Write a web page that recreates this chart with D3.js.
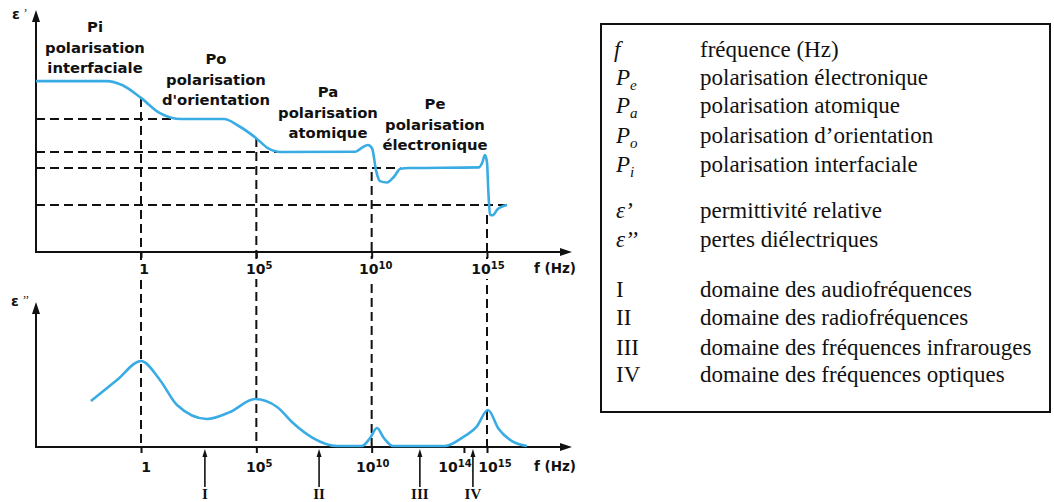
<!DOCTYPE html>
<html><head><meta charset="utf-8">
<script src="https://cdn.jsdelivr.net/npm/d3@7"></script>
<style>body{margin:0;background:#fff;} svg{display:block}</style>
</head><body><svg id="c" width="1054" height="502"></svg>
<script>
// ---------- DATA ----------
// frequency expressed as log10(f / Hz)
const tickExpTop = [0, 5, 10, 15];
const tickExpBottom = [0, 5, 10, 14, 15];
// real part of permittivity ε' (arbitrary units)
const epsPrimeLogF = [-4.55, -1.5, -0.8, 0, 0.8, 1.75, 3.6, 4.2, 4.98, 5.5, 6.05, 9.3, 9.6, 9.84, 10.02, 10.19, 10.36, 10.66, 10.95, 11.25, 11.6, 14.65, 14.8, 14.91, 15.0, 15.06, 15.13, 15.25, 15.45, 15.87];
const epsPrimeValues = [7.43, 7.43, 7.25, 6.70, 6.05, 5.78, 5.78, 5.50, 4.96, 4.52, 4.35, 4.36, 4.55, 4.65, 4.50, 3.55, 3.08, 3.02, 3.25, 3.62, 3.65, 3.68, 3.90, 4.22, 3.90, 2.60, 1.62, 1.60, 1.85, 2.04];
// imaginary part ε'' (dielectric losses, arbitrary units)
const epsSecondLogF = [-2.17, -1.04, 0, 0.82, 1.56, 2.86, 3.86, 4.94, 5.9, 6.59, 7.46, 8.5, 9.58, 9.93, 10.23, 10.53, 10.92, 13.18, 13.9, 14.55, 15.04, 15.5, 16.1, 16.73];
const epsSecondValues = [3.29, 4.79, 6.14, 4.79, 3.0, 2.0, 2.5, 3.43, 2.86, 1.71, 0.64, 0.07, 0.07, 0.64, 1.36, 0.64, 0.07, 0.07, 0.64, 1.45, 2.64, 1.30, 0.40, 0.07];
// plateau levels of ε' (horizontal guides) and where they end
const plateauLevels = [5.78, 4.35, 3.65, 2.04];
const plateauEndLogF = [1.8, 6.0, 11.25, 15.85];
// relaxation frequencies (vertical guides) and ε' value where guide starts
const relaxLogF = [0, 5, 10, 15];
const relaxEpsPrime = [6.70, 4.96, 3.48, 1.61];
// frequency domains
const domainLogF = [2.77, 7.72, 12.09, 14.39];
const domainLabels = ["I", "II", "III", "IV"];
// region labels (top chart)
const regionTitles = ["Pi", "Po", "Pa", "Pe"];
const regionNames = [["polarisation", "interfaciale"], ["polarisation", "d'orientation"], ["polarisation", "atomique"], ["polarisation", "électronique"]];
// legend
const legendSymbols = [["f", ""], ["P", "e"], ["P", "a"], ["P", "o"], ["P", "i"], ["ε’", ""], ["ε’’", ""], ["I", ""], ["II", ""], ["III", ""], ["IV", ""]];
const legendTexts = ["fréquence (Hz)", "polarisation électronique", "polarisation atomique", "polarisation d’orientation", "polarisation interfaciale", "permittivité relative", "pertes diélectriques", "domaine des audiofréquences", "domaine des radiofréquences", "domaine des fréquences infrarouges", "domaine des fréquences optiques"];

// ---------- LAYOUT ----------
const svg = d3.select("#c");
const BLUE = "#3aace4", INK = "#111";
const SANS = "'DejaVu Sans', Verdana, sans-serif";
const SERIF = "'Liberation Serif', 'Times New Roman', serif";
const x = d3.scaleLinear().domain([0, 15]).range([141, 487]);
const yTop = d3.scaleLinear().domain([0, 10]).range([252, 22]);
const yBot = d3.scaleLinear().domain([0, 10]).range([447, 307]);
const axX0 = 36, axX1 = 572;

svg.append("rect").attr("width", 1054).attr("height", 502).attr("fill", "#fff");

const dashed = g => g.attr("stroke", INK).attr("stroke-width", 2).attr("stroke-dasharray", "9,5").attr("fill", "none");

// horizontal plateau guides
svg.append("g").selectAll("line").data(plateauLevels).join("line")
  .attr("x1", axX0).attr("x2", (d, i) => x(plateauEndLogF[i]))
  .attr("y1", d => yTop(d)).attr("y2", d => yTop(d)).call(dashed);

// vertical relaxation guides
svg.append("g").selectAll("line").data(relaxLogF).join("line")
  .attr("x1", d => x(d)).attr("x2", d => x(d))
  .attr("y1", (d, i) => yTop(relaxEpsPrime[i])).attr("y2", yBot(0)).call(dashed);

// tick labels with superscripts (white boxes)
function tickLabel(g, exp, xpos, ypos) {
  const t = g.append("text").attr("x", xpos).attr("y", ypos).attr("text-anchor", "middle")
    .attr("font-family", SANS).attr("font-weight", "bold").attr("font-size", 14).attr("fill", INK);
  if (exp === 0) t.text("1");
  else {
    t.append("tspan").text("10");
    t.append("tspan").attr("dy", -5).attr("font-size", 10).text(exp);
  }
  const bb = t.node().getBBox();
  g.insert("rect", "text").attr("x", bb.x - 2).attr("y", bb.y - 1).attr("width", bb.width + 4).attr("height", bb.height + 3).attr("fill", "#fff");
}

// axes
function drawAxes(y0, yArrowTop, ticks, labelY, offsets) {
  const g = svg.append("g");
  g.append("line").attr("x1", axX0).attr("x2", axX0).attr("y1", y0 + 1).attr("y2", yArrowTop + 8).attr("stroke", INK).attr("stroke-width", 2);
  g.append("path").attr("d", `M${axX0},${yArrowTop} L${axX0 - 4},${yArrowTop + 12} L${axX0 + 4},${yArrowTop + 12}Z`).attr("fill", INK);
  g.append("line").attr("x1", axX0 - 1).attr("x2", axX1 - 8).attr("y1", y0).attr("y2", y0).attr("stroke", INK).attr("stroke-width", 2);
  g.append("path").attr("d", `M${axX1},${y0} L${axX1 - 12},${y0 - 4} L${axX1 - 12},${y0 + 4}Z`).attr("fill", INK);
  const ax = g.append("g").attr("transform", `translate(0,${y0})`)
    .call(d3.axisBottom(x).tickValues(ticks).tickSize(6).tickFormat(""));
  ax.select(".domain").remove();
  ax.selectAll(".tick line").attr("stroke", INK).attr("stroke-width", 2);
  const lg = svg.append("g");
  ticks.forEach((t, i) => {
    const sub = lg.append("g");
    tickLabel(sub, t, x(t) + offsets[i], labelY);
  });
  g.append("text").attr("x", axX1 + 4).attr("y", labelY - 1).attr("text-anchor", "end")
    .attr("font-family", SANS).attr("font-weight", "bold").attr("font-size", 13.5).attr("fill", INK).text("f (Hz)");
}
drawAxes(252, 10, tickExpTop, 274, [3, 3, 4, 1]);
drawAxes(447, 302, tickExpBottom, 472, [5, 3, 1, -9, 8]);

// curves
const lineTop = d3.line().x((d, i) => x(epsPrimeLogF[i])).y(d => yTop(d)).curve(d3.curveMonotoneX);
svg.append("path").attr("d", lineTop(epsPrimeValues)).attr("fill", "none").attr("stroke", BLUE).attr("stroke-width", 2.6).attr("stroke-linejoin", "round");
const lineBot = d3.line().x((d, i) => x(epsSecondLogF[i])).y(d => yBot(d)).curve(d3.curveMonotoneX);
svg.append("path").attr("d", lineBot(epsSecondValues)).attr("fill", "none").attr("stroke", BLUE).attr("stroke-width", 2.6).attr("stroke-linejoin", "round");

// epsilon axis labels
function epsLabel(xp, yp, primes) {
  const t = svg.append("text").attr("x", xp).attr("y", yp).attr("font-family", SANS).attr("font-weight", "bold").attr("font-size", 14).attr("fill", INK);
  t.append("tspan").text("ε");
  t.append("tspan").attr("dx", 3).attr("dy", -2).attr("font-size", 12).attr("font-family", SERIF).attr("font-style", "italic").attr("font-weight", "normal").text(primes);
}
epsLabel(12, 19, "’");
epsLabel(11, 306, "’’");

// region labels in top chart
const regionPos = [[95, 27], [216, 59], [328, 92], [435, 104]];
regionTitles.forEach((t, i) => {
  const tx = svg.append("text").attr("x", regionPos[i][0]).attr("y", regionPos[i][1] + 5).attr("text-anchor", "middle")
    .attr("font-family", SANS).attr("font-weight", "bold").attr("font-size", 14.8).attr("fill", INK);
  tx.append("tspan").attr("x", regionPos[i][0]).text(t);
  regionNames[i].forEach(n => tx.append("tspan").attr("x", regionPos[i][0]).attr("dy", 20.5).text(n));
});

// domain arrows I..IV
const dg = svg.append("g");
domainLogF.forEach((d, i) => {
  const xp = x(d);
  dg.append("line").attr("x1", xp).attr("x2", xp).attr("y1", 456).attr("y2", 487).attr("stroke", INK).attr("stroke-width", 1.6);
  dg.append("path").attr("d", `M${xp},449 L${xp - 2.5},457 L${xp + 2.5},457Z`).attr("fill", INK);
  dg.append("text").attr("x", xp).attr("y", 499).attr("text-anchor", "middle").attr("font-family", SERIF)
    .attr("font-weight", "bold").attr("font-size", 15).attr("fill", INK).text(domainLabels[i]);
});

// legend box
svg.append("rect").attr("x", 601).attr("y", 24).attr("width", 449).attr("height", 388)
  .attr("fill", "#fff").attr("stroke", INK).attr("stroke-width", 2);
const legendBaselines = [57, 85, 113, 143, 172, 218, 247, 297, 325, 355, 382];
const lg = svg.append("g").attr("font-family", SERIF).attr("font-size", 23).attr("fill", INK);
legendSymbols.forEach((s, i) => {
  const t = lg.append("text").attr("x", i === 0 ? 614 : 616).attr("y", legendBaselines[i]);
  const italic = i < 7;
  t.append("tspan").attr("font-style", italic ? "italic" : "normal").text(s[0]);
  if (s[1]) t.append("tspan").attr("font-style", "italic").attr("font-size", 15).attr("dy", 5).text(s[1]);
  lg.append("text").attr("x", 700).attr("y", legendBaselines[i]).text(legendTexts[i]);
});
</script></body></html>
